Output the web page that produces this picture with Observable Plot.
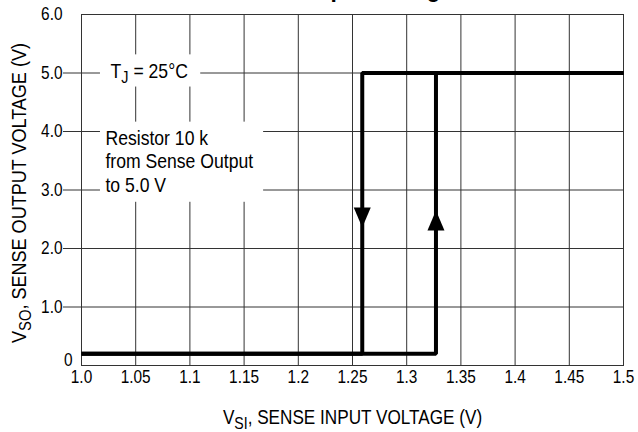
<!DOCTYPE html>
<html><head><meta charset="utf-8">
<script src="https://cdn.jsdelivr.net/npm/d3@7"></script>
<script src="https://cdn.jsdelivr.net/npm/@observablehq/plot@0.6"></script>
<style>body{margin:0;background:#fff}</style>
</head><body><div id="chart"></div>
<script>
// ---- data ----
const title = "Sense Input Voltage";
const xLabel = "V_SI, SENSE INPUT VOLTAGE (V)";
const yLabel = "V_SO, SENSE OUTPUT VOLTAGE (V)";
const xTicks = [1.0, 1.05, 1.1, 1.15, 1.2, 1.25, 1.3, 1.35, 1.4, 1.45, 1.5];
const xTickLabels = ["1.0", "1.05", "1.1", "1.15", "1.2", "1.25", "1.3", "1.35", "1.4", "1.45", "1.5"];
const yTicks = [0, 1, 2, 3, 4, 5, 6];
const yTickLabels = ["0", "1.0", "2.0", "3.0", "4.0", "5.0", "6.0"];
// rising input: output switches high at ~1.327 V
const risingX = [1.0, 1.327, 1.327, 1.5];
const risingY = [0.2, 0.2, 5.0, 5.0];
// falling input: output switches low at ~1.259 V
const fallingX = [1.5, 1.259, 1.259, 1.0];
const fallingY = [5.0, 5.0, 0.2, 0.2];
const arrowX = [1.259, 1.327];
const arrowY = [2.53, 2.48];
const arrowDir = ["down", "up"];
const noteText = ["T_J = 25°C", "Resistor 10 k\nfrom Sense Output\nto 5.0 V"];
const noteX = [1.0268, 1.0221];
const noteY = [5.05, 3.50];
const noteBoxX1 = [1.0175, 1.0175];
const noteBoxX2 = [1.110, 1.168];
const noteBoxY1 = [4.76, 2.79];
const noteBoxY2 = [5.31, 4.16];

// ---- tables ----
const lines = [
  ...risingX.map((x, i) => ({series: "rising", x, y: risingY[i]})),
  ...fallingX.map((x, i) => ({series: "falling", x, y: fallingY[i]}))
];
const arrows = arrowX.map((x, i) => ({x, y: arrowY[i], dir: arrowDir[i]}));
const notes = noteText.map((t, i) => ({text: t, x: noteX[i], y: noteY[i]}));
const boxes = noteText.map((t, i) => ({x1: noteBoxX1[i], x2: noteBoxX2[i], y1: noteBoxY1[i], y2: noteBoxY2[i]}));

const arrowHead = {
  draw(context, size) {
    const r = Math.sqrt(size / Math.PI);
    context.moveTo(0, -r);
    context.lineTo(0.85 * r, r);
    context.lineTo(-0.85 * r, r);
    context.closePath();
  }
};
const xFmt = d => xTickLabels[xTicks.findIndex(v => Math.abs(v - d) < 1e-9)];
const yFmt = d => yTickLabels[yTicks.indexOf(d)];
const ink = "#333";
const font = "'Liberation Sans', Arial, Helvetica, sans-serif";

const plot = Plot.plot({
  width: 638, height: 432,
  marginTop: 14, marginRight: 15, marginBottom: 67, marginLeft: 81,
  style: {fontFamily: font, fontSize: "17.5px", color: "#000", background: "#fff", overflow: "visible"},
  x: {domain: [1.0, 1.5], label: null},
  y: {domain: [0, 6], label: null},
  marks: [
    Plot.gridX(xTicks, {stroke: ink, strokeOpacity: 1}),
    Plot.gridY(yTicks.slice(1, -1), {stroke: ink, strokeOpacity: 1}),
    Plot.axisY(yTicks.slice(1, -1), {tickSize: 18, tickPadding: 1, stroke: ink, tickFormat: yFmt, label: null, fill: "#000", fontSize: 17.5}),
    Plot.axisY([6], {tickSize: 0, tickPadding: 19, tickFormat: yFmt, label: null, fill: "#000", fontSize: 17.5}),
    Plot.axisY([0], {tickSize: 0, tickPadding: 9, dy: -5, tickFormat: yFmt, label: null, fill: "#000", fontSize: 17.5}),
    Plot.axisX(xTicks, {tickSize: 0, tickPadding: 5, tickFormat: xFmt, label: null, fill: "#000", fontSize: 17.5}),
    Plot.frame({stroke: ink}),
    Plot.rect(boxes, {x1: "x1", x2: "x2", y1: "y1", y2: "y2", fill: "white"}),
    Plot.text(notes, {x: "x", y: "y", text: "text", textAnchor: "start", fontSize: 20, lineHeight: 1.17, fill: "#000"}),
    Plot.line(lines, {x: "x", y: "y", z: "series", stroke: "#000", strokeWidth: 4, strokeLinejoin: "miter", strokeLinecap: "butt"}),
    Plot.dot(arrows, {x: "x", y: "y", symbol: arrowHead, r: 10, fill: "#000", stroke: null, rotate: d => d.dir === "down" ? 180 : 0}),
    Plot.text([title], {frameAnchor: "top-left", dx: 155, dy: -17.5, lineAnchor: "bottom", textAnchor: "start", fontWeight: "bold", fontSize: 26, fill: "#000"}),
    Plot.text([xLabel], {frameAnchor: "bottom", dy: 58, lineAnchor: "bottom", textAnchor: "middle", fontSize: 19.5, fill: "#000"}),
    Plot.text([yLabel], {frameAnchor: "left", rotate: -90, dx: -56, dy: 3, lineAnchor: "bottom", textAnchor: "middle", fontSize: 20.5, fill: "#000"})
  ]
});
document.getElementById("chart").appendChild(plot);

const ns = "http://www.w3.org/2000/svg";
// turn "A_BC rest" into A with subscript BC
plot.querySelectorAll("text").forEach(el => {
  if (el.children.length) return;
  const m = el.textContent.match(/^(.*?)_([A-Z]+)(.*)$/);
  if (!m) return;
  const fs = parseFloat(getComputedStyle(el).fontSize) || 16;
  el.textContent = "";
  const a = document.createElementNS(ns, "tspan"); a.textContent = m[1]; el.appendChild(a);
  const b = document.createElementNS(ns, "tspan"); b.textContent = m[2];
  b.setAttribute("font-size", (0.82 * fs) + "px"); b.setAttribute("dy", (0.27 * fs)); el.appendChild(b);
  const c = document.createElementNS(ns, "tspan"); c.textContent = m[3];
  c.setAttribute("dy", (-0.27 * fs)); el.appendChild(c);
});
// condensed (Helvetica Narrow-like) lettering: squeeze each text horizontally about its anchor
plot.querySelectorAll("text").forEach(el => {
  let t = el.getAttribute("transform") || "";
  const x = el.getAttribute("x");
  if (x != null && /^-?[\d.]+$/.test(x.trim())) {
    t += ` translate(${+x},0)`;
    el.removeAttribute("x");
  }
  el.setAttribute("transform", (t + " scale(0.88,1)").trim());
});
</script>
</body></html>
